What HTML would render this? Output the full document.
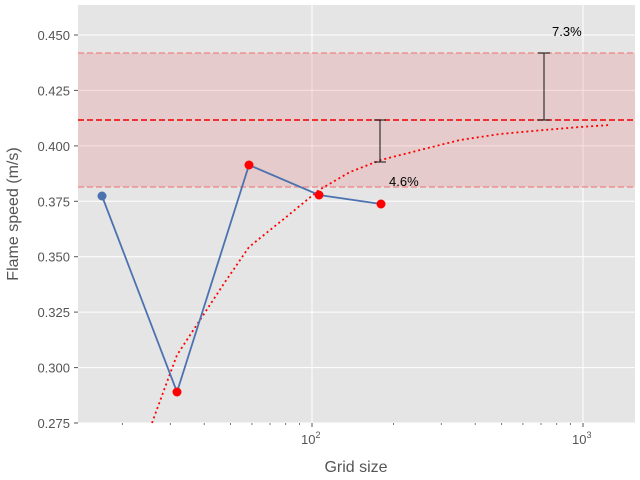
<!DOCTYPE html>
<html><head><style>body{margin:0;background:#fff}svg{display:block}text{font-family:"Liberation Sans","DejaVu Sans",sans-serif}</style></head><body>
<svg width="640" height="480" xmlns="http://www.w3.org/2000/svg">
<rect x="78" y="5" width="557" height="418" fill="#e5e5e5"/>
<g stroke="#fff" stroke-width="1">
<line x1="78" x2="635" y1="423" y2="423"/><line x1="78" x2="635" y1="367.6" y2="367.6"/><line x1="78" x2="635" y1="312.1" y2="312.1"/><line x1="78" x2="635" y1="256.7" y2="256.7"/><line x1="78" x2="635" y1="201.3" y2="201.3"/><line x1="78" x2="635" y1="145.9" y2="145.9"/><line x1="78" x2="635" y1="90.4" y2="90.4"/><line x1="78" x2="635" y1="35" y2="35"/>
<line x1="312" x2="312" y1="5" y2="423"/><line x1="583" x2="583" y1="5" y2="423"/>
</g>
<rect x="78" y="53" width="557" height="134" fill="#e88080" opacity="0.25"/>
<line x1="78" x2="635" y1="53" y2="53" stroke="#f08080" stroke-width="1.5" stroke-dasharray="6,3" opacity="0.8"/>
<line x1="78" x2="635" y1="187" y2="187" stroke="#f08080" stroke-width="1.5" stroke-dasharray="6,3" opacity="0.8"/>
<line x1="78" x2="635" y1="120" y2="120" stroke="#e00" stroke-width="1.5" stroke-dasharray="6,3"/>
<polyline points="152,423 164,390 177,355 200,320 225,282 249,247 285,218 319,190 350,172 381,160 420,150 460,140 500,134 544,130 580,127 610,125" fill="none" stroke="red" stroke-width="1.8" stroke-dasharray="2,3"/>
<g stroke="#111" stroke-width="1">
<line x1="380" x2="380" y1="120" y2="162"/><line x1="374" x2="386" y1="120" y2="120"/><line x1="374" x2="386" y1="162" y2="162"/>
<line x1="544" x2="544" y1="53" y2="120"/><line x1="538" x2="550" y1="53" y2="53"/><line x1="538" x2="550" y1="120" y2="120"/>
</g>
<polyline points="102,196 177,392 249,165 319,195 381,204" fill="none" stroke="#4c72b0" stroke-width="1.8"/>
<circle cx="102" cy="196" r="4.5" fill="#4c72b0"/>
<g fill="red"><circle cx="177" cy="392" r="4.5"/><circle cx="249" cy="165" r="4.5"/><circle cx="319" cy="195" r="4.5"/><circle cx="381" cy="204" r="4.5"/></g>
<text x="389" y="186" font-size="13" fill="#000">4.6%</text>
<text x="552" y="36" font-size="13" fill="#000">7.3%</text>
<g stroke="#555" stroke-width="1">
<line x1="74" x2="78" y1="423" y2="423"/><line x1="74" x2="78" y1="367.6" y2="367.6"/><line x1="74" x2="78" y1="312.1" y2="312.1"/><line x1="74" x2="78" y1="256.7" y2="256.7"/><line x1="74" x2="78" y1="201.3" y2="201.3"/><line x1="74" x2="78" y1="145.9" y2="145.9"/><line x1="74" x2="78" y1="90.4" y2="90.4"/><line x1="74" x2="78" y1="35" y2="35"/>
<line x1="312" x2="312" y1="423" y2="427"/><line x1="583" x2="583" y1="423" y2="427"/>
<g stroke-width="0.8"><line x1="122.6" x2="122.6" y1="423" y2="425"/><line x1="170.3" x2="170.3" y1="423" y2="425"/><line x1="204.2" x2="204.2" y1="423" y2="425"/><line x1="230.4" x2="230.4" y1="423" y2="425"/><line x1="251.9" x2="251.9" y1="423" y2="425"/><line x1="270" x2="270" y1="423" y2="425"/><line x1="285.7" x2="285.7" y1="423" y2="425"/><line x1="299.6" x2="299.6" y1="423" y2="425"/><line x1="393.6" x2="393.6" y1="423" y2="425"/><line x1="441.3" x2="441.3" y1="423" y2="425"/><line x1="475.2" x2="475.2" y1="423" y2="425"/><line x1="501.4" x2="501.4" y1="423" y2="425"/><line x1="522.9" x2="522.9" y1="423" y2="425"/><line x1="541" x2="541" y1="423" y2="425"/><line x1="556.7" x2="556.7" y1="423" y2="425"/><line x1="570.6" x2="570.6" y1="423" y2="425"/></g>
</g>
<g font-size="13" fill="#555" text-anchor="end">
<text x="70" y="428">0.275</text><text x="70" y="372.6">0.300</text><text x="70" y="317.1">0.325</text><text x="70" y="261.7">0.350</text><text x="70" y="206.3">0.375</text><text x="70" y="150.9">0.400</text><text x="70" y="95.4">0.425</text><text x="70" y="40">0.450</text>
</g>
<g font-size="13" fill="#555"><text x="301" y="444">10<tspan font-size="9" dy="-6">2</tspan></text><text x="572" y="444">10<tspan font-size="9" dy="-6">3</tspan></text></g>
<text x="356" y="472" font-size="16" fill="#555" text-anchor="middle">Grid size</text>
<text transform="translate(18,214) rotate(-90)" font-size="16" fill="#555" text-anchor="middle">Flame speed (m/s)</text>
</svg>
</body></html>
